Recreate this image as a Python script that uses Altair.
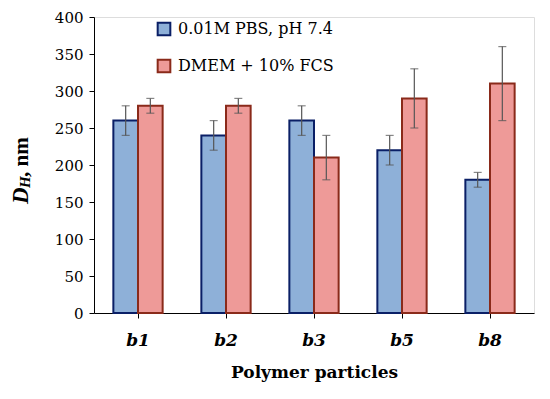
import altair as alt
import pandas as pd

categories = ["b1", "b2", "b3", "b5", "b8"]
series = ["0.01M PBS, pH 7.4", "DMEM + 10% FCS"]
pbs_values = [260, 240, 260, 220, 180]
pbs_errors = [20, 20, 20, 20, 10]
dmem_values = [280, 280, 210, 290, 310]
dmem_errors = [10, 10, 30, 40, 50]
y_ticks = [0, 50, 100, 150, 200, 250, 300, 350, 400]

rows = []
for i, c in enumerate(categories):
    rows.append({"cat": c, "series": series[0], "value": pbs_values[i],
                 "lo": pbs_values[i] - pbs_errors[i], "hi": pbs_values[i] + pbs_errors[i]})
    rows.append({"cat": c, "series": series[1], "value": dmem_values[i],
                 "lo": dmem_values[i] - dmem_errors[i], "hi": dmem_values[i] + dmem_errors[i]})
df = pd.DataFrame(rows)

SERIF = "DejaVu Serif"
fill_scale = alt.Scale(domain=series, range=["#8EB0D8", "#EE9A98"])
stroke_scale = alt.Scale(domain=series, range=["#0A1F66", "#8A2A1A"])

x_axis = alt.Axis(labelAngle=0, labelFont=SERIF, labelFontSize=17,
                  labelFontWeight="bold", labelFontStyle="italic",
                  labelColor="black", labelPadding=14,
                  titleFont=SERIF, titleFontSize=17, titleFontWeight="bold",
                  titleColor="black", titlePadding=16,
                  domainColor="black", tickColor="black", tickSize=5,
                  grid=False)
x_scale = alt.Scale(paddingInner=0.44, paddingOuter=0.22)
y_axis = alt.Axis(values=y_ticks, labelOverlap=False, labelFont=SERIF,
                  labelFontSize=15, labelColor="black", labelPadding=6,
                  domainColor="black", tickColor="black", tickSize=5,
                  grid=False)
y_scale = alt.Scale(domain=[0, 400], nice=False)


def xe():
    return alt.X("cat:N", sort=categories, title="Polymer particles",
                 scale=x_scale, axis=x_axis)


def ye(field):
    return alt.Y(field, title=None, scale=y_scale, axis=y_axis)


xoff = alt.XOffset("series:N", sort=series, scale=alt.Scale(paddingInner=0, paddingOuter=0))

legend = alt.Legend(title=None, orient="none", legendX=62, legendY=4,
                    symbolType="square", symbolSize=160,
                    symbolStrokeWidth=2, labelFont=SERIF,
                    labelFontSize=16, labelColor="black",
                    rowPadding=15, labelOffset=6)

base = alt.Chart(df)

bars = base.mark_bar(strokeWidth=2).encode(
    x=xe(),
    xOffset=xoff,
    y=ye("value:Q"),
    fill=alt.Fill("series:N", scale=fill_scale, sort=series, legend=legend),
    stroke=alt.Stroke("series:N", scale=stroke_scale, sort=series, legend=legend),
)

rules = base.mark_rule(color="#555555", strokeWidth=1.2).encode(
    x=xe(), xOffset=xoff, y=ye("lo:Q"), y2="hi:Q")
cap_lo = base.mark_tick(color="#555555", thickness=1.2, size=8).encode(
    x=xe(), xOffset=xoff, y=ye("lo:Q"))
cap_hi = base.mark_tick(color="#555555", thickness=1.2, size=8).encode(
    x=xe(), xOffset=xoff, y=ye("hi:Q"))

TSERIF = "Liberation Serif"
title_d = alt.Chart(pd.DataFrame({"t": ["D"]})).mark_text(
    angle=270, align="left", baseline="alphabetic", font=TSERIF, fontSize=23,
    fontWeight="bold", fontStyle="italic", color="black").encode(
    text="t:N", x=alt.value(-66), y=alt.value(187))
title_h = alt.Chart(pd.DataFrame({"t": ["H"]})).mark_text(
    angle=270, align="left", baseline="alphabetic", font=TSERIF, fontSize=15,
    fontWeight="bold", fontStyle="italic", color="black").encode(
    text="t:N", x=alt.value(-64), y=alt.value(171))
title_nm = alt.Chart(pd.DataFrame({"t": [", nm"]})).mark_text(
    angle=270, align="left", baseline="alphabetic", font=TSERIF, fontSize=21,
    fontWeight="bold", color="black").encode(
    text="t:N", x=alt.value(-66), y=alt.value(160))

chart = alt.layer(bars, rules, cap_lo, cap_hi, title_d, title_h, title_nm).properties(
    width=440, height=296,
    autosize=alt.AutoSizeParams(type="none"),
    padding={"left": 86, "top": 9, "right": 8, "bottom": 70},
).configure_view(stroke=None).configure(background="white")

chart.save("out.html", embed_options={"renderer": "svg", "actions": False})
